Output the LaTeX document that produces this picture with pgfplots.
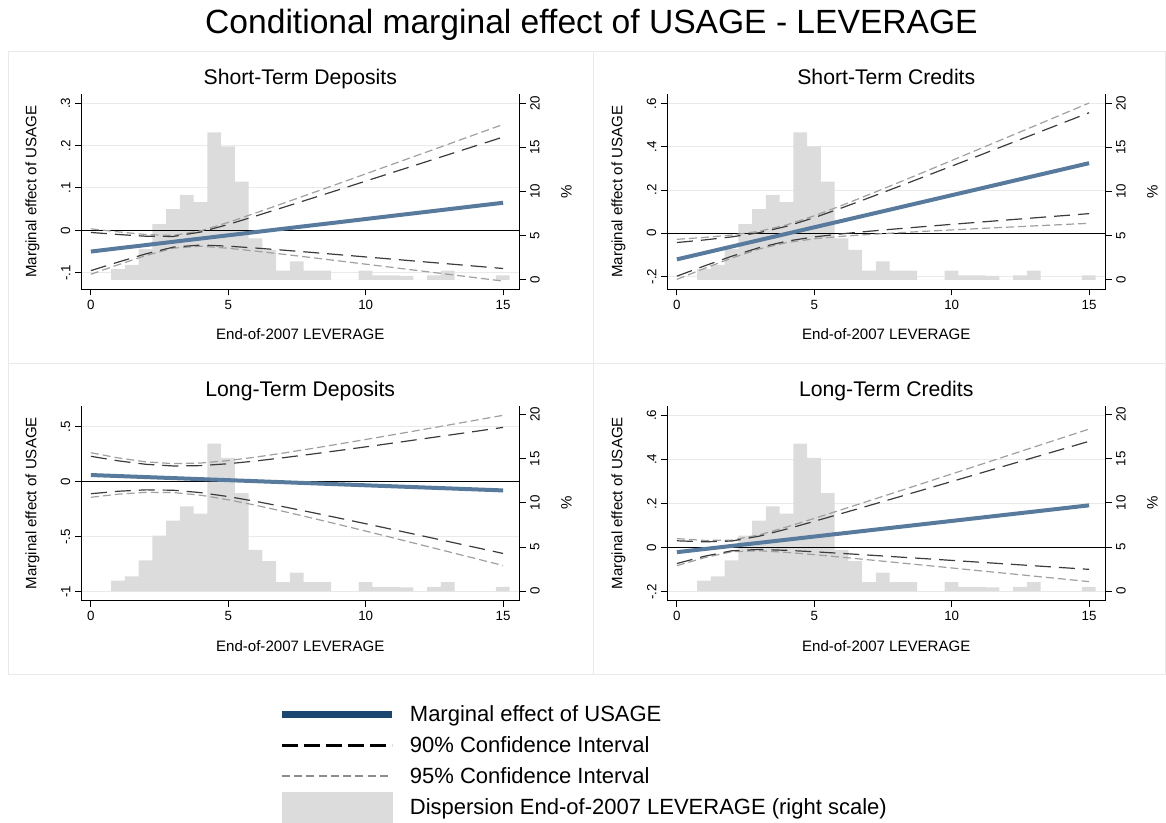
\documentclass[border=0pt]{standalone}
\usepackage{pgfplots}
\pgfplotsset{compat=1.18}
\usepackage{pgfplotstable}
\usepackage{fontspec}
\setmainfont{Liberation Sans}
\definecolor{histgray}{RGB}{220,220,220}
\definecolor{gridgray}{RGB}{234,234,234}
\definecolor{meblue}{RGB}{88,122,156}
\definecolor{legblue}{RGB}{26,71,111}
\definecolor{ciA}{RGB}{60,60,60}
\definecolor{ciB}{RGB}{160,160,160}
\definecolor{panelframe}{RGB}{234,234,234}

\pgfplotstableread{
x y
0.74 1.2
1.24 1.7
1.74 3.5
2.24 6.3
2.74 8.0
3.24 9.6
3.74 8.8
4.24 16.7
4.74 15.1
5.24 11.1
5.74 4.7
6.24 3.4
6.74 1.05
7.24 2.1
7.74 1.05
8.24 1.05
8.74 0
9.24 0
9.74 1.05
10.24 0.5
10.74 0.5
11.24 0.45
11.74 0
12.24 0.5
12.74 1.05
13.24 0
13.74 0
14.24 0
14.74 0.5
15.24 0
}\histtab

% Short-Term Deposits
\pgfplotstableread{
x me lo90 hi90 lo95 hi95
0 -0.0500 -0.0950 -0.0050 -0.1036 0.0036
1 -0.0423 -0.0748 -0.0098 -0.0810 -0.0036
2 -0.0347 -0.0555 -0.0139 -0.0595 -0.0099
3 -0.0270 -0.0396 -0.0144 -0.0420 -0.0120
4 -0.0193 -0.0346 -0.0040 -0.0375 -0.0011
5 -0.0117 -0.0373 0.0139 -0.0422 0.0188
6 -0.0040 -0.0418 0.0338 -0.0490 0.0410
7 0.0037 -0.0467 0.0541 -0.0564 0.0638
8 0.0114 -0.0519 0.0747 -0.0640 0.0868
9 0.0190 -0.0573 0.0953 -0.0719 0.1099
10 0.0267 -0.0627 0.1161 -0.0798 0.1332
11 0.0344 -0.0681 0.1369 -0.0877 0.1565
12 0.0420 -0.0736 0.1576 -0.0957 0.1797
13 0.0497 -0.0790 0.1784 -0.1036 0.2030
14 0.0574 -0.0845 0.1993 -0.1117 0.2265
15 0.0650 -0.0900 0.2200 -0.1197 0.2497
}\tabA

% Short-Term Credits
\pgfplotstableread{
x me lo90 hi90 lo95 hi95
0 -0.1210 -0.1990 -0.0430 -0.2139 -0.0281
1 -0.0913 -0.1516 -0.0310 -0.1631 -0.0195
2 -0.0615 -0.1063 -0.0167 -0.1149 -0.0081
3 -0.0318 -0.0663 0.0027 -0.0729 0.0093
4 -0.0021 -0.0366 0.0324 -0.0432 0.0390
5 0.0277 -0.0170 0.0724 -0.0256 0.0810
6 0.0574 -0.0027 0.1175 -0.0142 0.1290
7 0.0871 0.0093 0.1649 -0.0056 0.1798
8 0.1168 0.0204 0.2132 0.0019 0.2317
9 0.1466 0.0310 0.2622 0.0089 0.2843
10 0.1763 0.0413 0.3113 0.0154 0.3372
11 0.2060 0.0514 0.3606 0.0218 0.3902
12 0.2358 0.0614 0.4102 0.0280 0.4436
13 0.2655 0.0713 0.4597 0.0341 0.4969
14 0.2952 0.0811 0.5093 0.0401 0.5503
15 0.3250 0.0910 0.5590 0.0462 0.6038
}\tabB

% Long-Term Deposits
\pgfplotstableread{
x me lo90 hi90 lo95 hi95
0 0.0610 -0.1090 0.2310 -0.1416 0.2636
1 0.0517 -0.0864 0.1898 -0.1128 0.2162
2 0.0423 -0.0739 0.1585 -0.0962 0.1808
3 0.0330 -0.0773 0.1433 -0.0984 0.1644
4 0.0237 -0.0992 0.1466 -0.1227 0.1701
5 0.0143 -0.1351 0.1637 -0.1637 0.1923
6 0.0050 -0.1787 0.1887 -0.2139 0.2239
7 -0.0043 -0.2267 0.2181 -0.2693 0.2607
8 -0.0137 -0.2772 0.2498 -0.3277 0.3003
9 -0.0230 -0.3290 0.2830 -0.3876 0.3416
10 -0.0323 -0.3817 0.3171 -0.4486 0.3840
11 -0.0417 -0.4352 0.3518 -0.5106 0.4272
12 -0.0510 -0.4890 0.3870 -0.5729 0.4709
13 -0.0603 -0.5431 0.4225 -0.6356 0.5150
14 -0.0697 -0.5975 0.4581 -0.6986 0.5592
15 -0.0790 -0.6520 0.4940 -0.7617 0.6037
}\tabC

% Long-Term Credits
\pgfplotstableread{
x me lo90 hi90 lo95 hi95
0 -0.0200 -0.0715 0.0315 -0.0814 0.0414
1 -0.0059 -0.0386 0.0268 -0.0449 0.0331
2 0.0083 -0.0138 0.0304 -0.0180 0.0346
3 0.0224 -0.0077 0.0525 -0.0135 0.0583
4 0.0365 -0.0118 0.0848 -0.0211 0.0941
5 0.0507 -0.0182 0.1196 -0.0314 0.1328
6 0.0648 -0.0256 0.1552 -0.0429 0.1725
7 0.0789 -0.0334 0.1912 -0.0549 0.2127
8 0.0930 -0.0413 0.2273 -0.0670 0.2530
9 0.1072 -0.0492 0.2636 -0.0792 0.2936
10 0.1213 -0.0573 0.2999 -0.0915 0.3341
11 0.1354 -0.0654 0.3362 -0.1039 0.3747
12 0.1496 -0.0735 0.3727 -0.1162 0.4154
13 0.1637 -0.0816 0.4090 -0.1286 0.4560
14 0.1778 -0.0898 0.4454 -0.1410 0.4966
15 0.1920 -0.0979 0.4819 -0.1534 0.5374
}\tabD

\newcommand{\tickfont}{\fontsize{10}{12}\selectfont}
\newcommand{\labfont}{\fontsize{11.3}{13.5}\selectfont}

\pgfplotsset{
  base/.style={scale only axis, width=328.9pt, height=146.25pt,
    xmin=-0.36, xmax=15.6, anchor=north west},
  gridax/.style={base, axis line style={draw=none}, tick style={draw=none},
    xtick=\empty, yticklabels={}, ymajorgrids,
    major grid style={gridgray, line width=0.75pt}},
  histax/.style={base, axis x line=none, axis y line*=right,
    ymin=-1.07, ymax=21, ytick={0,5,10,15,20}, yticklabels={0,5,10,15,20},
    tick align=outside, major tick length=4.5pt,
    axis line style={black, line width=0.75pt},
    tick style={black, line width=0.75pt},
    yticklabel style={rotate=90, anchor=north, font=\tickfont},
    ylabel={\%},
    every axis y label/.style={at={(axis description cs:1.084,0.5)}, rotate=90, anchor=north, font=\labfont}},
  leftax/.style={base, axis x line*=bottom, axis y line*=left,
    xtick={0,5,10,15}, xticklabels={0,5,10,15},
    tick align=outside, major tick length=4.5pt,
    axis line style={black, line width=0.75pt},
    tick style={black, line width=0.75pt},
    xticklabel style={font=\tickfont},
    yticklabel style={rotate=90, anchor=south, font=\tickfont},
    xlabel={End-of-2007 LEVERAGE}, ylabel={Marginal effect of USAGE},
    every axis x label/.style={at={(axis description cs:0.5,-0.26)}, anchor=base, font=\labfont},
    every axis y label/.style={at={(axis description cs:-0.1015,0.5)}, rotate=90, anchor=base, font=\labfont},
    every axis title/.style={at={(axis description cs:0.5,1.0477)}, anchor=base, font=\fontsize{15.9}{19}\selectfont}},
}

\newcommand{\panel}[8]{%
\begin{axis}[gridax, at={(#1,#2)}, ymin=#5, ymax=#6, ytick={#7}]
\end{axis}
\begin{axis}[histax, at={(#1,#2)}]
\addplot[ybar interval, fill=histgray, draw=none] table[x=x,y=y] {\histtab};
\end{axis}
\begin{axis}[leftax, at={(#1,#2)}, ymin=#5, ymax=#6, ytick={#7}, yticklabels={#8}, title={#3}]
\addplot[black, line width=0.75pt] coordinates {(-0.36,0) (15.6,0)};
\addplot[ciB, line width=0.9pt, dash pattern=on 6pt off 3pt] table[x=x,y=lo95] {#4};
\addplot[ciB, line width=0.9pt, dash pattern=on 6pt off 3pt] table[x=x,y=hi95] {#4};
\addplot[ciA, line width=0.9pt, dash pattern=on 12pt off 6pt] table[x=x,y=lo90] {#4};
\addplot[ciA, line width=0.9pt, dash pattern=on 12pt off 6pt] table[x=x,y=hi90] {#4};
\addplot[meblue, line width=3pt] table[x=x,y=me] {#4};
\end{axis}}

\begin{document}
\begin{tikzpicture}
\useasboundingbox (0,0) rectangle (874.5pt,-617.25pt);
\draw[panelframe, line width=0.75pt] (6.2pt,-38.8pt) rectangle (445pt,-272.5pt);
\draw[panelframe, line width=0.75pt] (445pt,-38.8pt) rectangle (873.9pt,-272.5pt);
\draw[panelframe, line width=0.75pt] (6.2pt,-272.5pt) rectangle (445pt,-505.7pt);
\draw[panelframe, line width=0.75pt] (445pt,-272.5pt) rectangle (873.9pt,-505.7pt);
\node[anchor=base, font=\fontsize{25.2}{30}\selectfont] at (443.6pt,-25.5pt) {Conditional marginal effect of USAGE - LEVERAGE};

\panel{60.75pt}{-70.7pt}{Short-Term Deposits}{\tabA}{-0.139}{0.321}{-0.1,0,0.1,0.2,0.3}{-.1,0,.1,.2,.3}
\panel{500.25pt}{-70.7pt}{Short-Term Credits}{\tabB}{-0.2597}{0.6445}{-0.2,0,0.2,0.4,0.6}{-.2,0,.2,.4,.6}
\panel{60.75pt}{-304.3pt}{Long-Term Deposits}{\tabC}{-1.082}{0.691}{-1,-0.5,0,0.5}{-1,-.5,0,.5}
\panel{500.25pt}{-304.3pt}{Long-Term Credits}{\tabD}{-0.240}{0.643}{-0.2,0,0.2,0.4,0.6}{-.2,0,.2,.4,.6}

\begin{axis}[hide axis, scale only axis, width=10pt, height=10pt,
  xmin=0, xmax=1, ymin=0, ymax=1, at={(208.5pt,-527pt)}, anchor=north west,
  legend cell align=left,
  legend style={draw=none, fill=none, at={(axis description cs:0,1)}, anchor=north west,
    font=\fontsize{16.5}{19.8}\selectfont, row sep=5.75pt, inner sep=0pt,
    /tikz/every odd column/.append style={column sep=9pt}}]
\addlegendimage{legend image code/.code={\draw[legblue, line width=5.25pt] (0pt,0pt) -- (82.5pt,0pt);}}
\addlegendentry{Marginal effect of USAGE}
\addlegendimage{legend image code/.code={\draw[black, line width=1.6pt, dash pattern=on 12.5pt off 4pt] (0pt,0pt) -- (82.5pt,0pt);}}
\addlegendentry{90\% Confidence Interval}
\addlegendimage{legend image code/.code={\draw[gray!90, line width=1.5pt, dash pattern=on 6pt off 3.2pt] (0pt,0pt) -- (82.5pt,0pt);}}
\addlegendentry{95\% Confidence Interval}
\addlegendimage{legend image code/.code={\path (0pt,-2.6pt) rectangle (82.5pt,2.6pt); \fill[histgray, overlay] (0pt,-11.25pt) rectangle (82.5pt,11.25pt);}}
\addlegendentry{Dispersion End-of-2007 LEVERAGE (right scale)}
\end{axis}
\end{tikzpicture}
\end{document}
